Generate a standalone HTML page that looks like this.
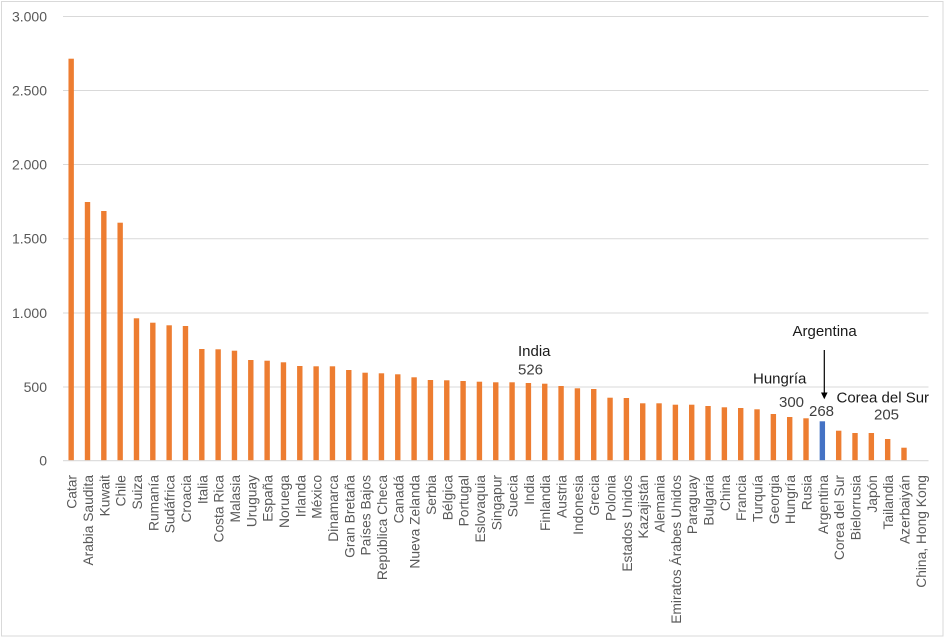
<!DOCTYPE html>
<html><head><meta charset="utf-8">
<style>
html,body{margin:0;padding:0;background:#fff;}
svg{display:block;}
text{font-family:"Liberation Sans",Arial,sans-serif;}
</style></head>
<body>
<svg width="945" height="637" viewBox="0 0 945 637" xmlns="http://www.w3.org/2000/svg">
<rect x="1.5" y="1.5" width="941.5" height="634.5" fill="#fff" stroke="#d9d9d9" stroke-width="1"/>
<g stroke="#d9d9d9" stroke-width="1">
<line x1="63" x2="928.5" y1="16.5" y2="16.5"/>
<line x1="63" x2="928.5" y1="90.5" y2="90.5"/>
<line x1="63" x2="928.5" y1="164.5" y2="164.5"/>
<line x1="63" x2="928.5" y1="238.7" y2="238.7"/>
<line x1="63" x2="928.5" y1="313" y2="313"/>
<line x1="63" x2="928.5" y1="387" y2="387"/>
</g>
<g font-size="14" fill="#595959" text-anchor="end">
<text x="47" y="21.5">3.000</text>
<text x="47" y="95.5">2.500</text>
<text x="47" y="169.5">2.000</text>
<text x="47" y="243.7">1.500</text>
<text x="47" y="318">1.000</text>
<text x="47" y="392">500</text>
<text x="47" y="465.7">0</text>
</g>
<g fill="#ED7D31">
<rect x="68.47" y="58.7" width="5.4" height="402"/>
<rect x="84.80" y="202" width="5.4" height="258.7"/>
<rect x="101.13" y="211" width="5.4" height="249.7"/>
<rect x="117.46" y="222.7" width="5.4" height="238"/>
<rect x="133.79" y="318.3" width="5.4" height="142.4"/>
<rect x="150.12" y="322.7" width="5.4" height="138"/>
<rect x="166.45" y="325.3" width="5.4" height="135.4"/>
<rect x="182.78" y="326" width="5.4" height="134.7"/>
<rect x="199.11" y="349" width="5.4" height="111.7"/>
<rect x="215.44" y="349.3" width="5.4" height="111.4"/>
<rect x="231.77" y="350.7" width="5.4" height="110"/>
<rect x="248.10" y="360" width="5.4" height="100.7"/>
<rect x="264.43" y="360.7" width="5.4" height="100"/>
<rect x="280.76" y="362.3" width="5.4" height="98.4"/>
<rect x="297.09" y="366" width="5.4" height="94.7"/>
<rect x="313.42" y="366.3" width="5.4" height="94.4"/>
<rect x="329.75" y="366.3" width="5.4" height="94.4"/>
<rect x="346.08" y="370" width="5.4" height="90.7"/>
<rect x="362.41" y="372.7" width="5.4" height="88"/>
<rect x="378.74" y="373.3" width="5.4" height="87.4"/>
<rect x="395.07" y="374.3" width="5.4" height="86.4"/>
<rect x="411.40" y="377.3" width="5.4" height="83.4"/>
<rect x="427.73" y="380" width="5.4" height="80.7"/>
<rect x="444.06" y="380.3" width="5.4" height="80.4"/>
<rect x="460.39" y="381" width="5.4" height="79.7"/>
<rect x="476.72" y="381.7" width="5.4" height="79"/>
<rect x="493.05" y="382.3" width="5.4" height="78.4"/>
<rect x="509.38" y="382.3" width="5.4" height="78.4"/>
<rect x="525.71" y="383" width="5.4" height="77.7"/>
<rect x="542.04" y="383.7" width="5.4" height="77"/>
<rect x="558.37" y="386" width="5.4" height="74.7"/>
<rect x="574.70" y="388.3" width="5.4" height="72.4"/>
<rect x="591.03" y="389" width="5.4" height="71.7"/>
<rect x="607.36" y="397.7" width="5.4" height="63"/>
<rect x="623.69" y="398" width="5.4" height="62.7"/>
<rect x="640.02" y="403.3" width="5.4" height="57.4"/>
<rect x="656.35" y="403.3" width="5.4" height="57.4"/>
<rect x="672.68" y="404.7" width="5.4" height="56"/>
<rect x="689.01" y="404.7" width="5.4" height="56"/>
<rect x="705.34" y="406" width="5.4" height="54.7"/>
<rect x="721.67" y="407.3" width="5.4" height="53.4"/>
<rect x="738.00" y="408" width="5.4" height="52.7"/>
<rect x="754.33" y="409.3" width="5.4" height="51.4"/>
<rect x="770.66" y="414" width="5.4" height="46.7"/>
<rect x="786.99" y="417" width="5.4" height="43.7"/>
<rect x="803.32" y="418.3" width="5.4" height="42.4"/>
<rect x="819.65" y="421.3" width="5.4" height="39.4" fill="#4472C4"/>
<rect x="835.98" y="430.7" width="5.4" height="30"/>
<rect x="852.31" y="433" width="5.4" height="27.7"/>
<rect x="868.64" y="433" width="5.4" height="27.7"/>
<rect x="884.97" y="439" width="5.4" height="21.7"/>
<rect x="901.30" y="447.7" width="5.4" height="13"/>
</g>
<line x1="63" x2="928.5" y1="460.7" y2="460.7" stroke="#d9d9d9" stroke-width="1.2"/>
<g font-size="13.8" fill="#595959" text-anchor="end">
<text x="76.67" y="475" transform="rotate(-90 76.67 475)">Catar</text>
<text x="93.00" y="475" transform="rotate(-90 93.00 475)">Arabia Saudita</text>
<text x="109.33" y="475" transform="rotate(-90 109.33 475)">Kuwait</text>
<text x="125.66" y="475" transform="rotate(-90 125.66 475)">Chile</text>
<text x="141.99" y="475" transform="rotate(-90 141.99 475)">Suiza</text>
<text x="158.32" y="475" transform="rotate(-90 158.32 475)">Rumanía</text>
<text x="174.65" y="475" transform="rotate(-90 174.65 475)">Sudáfrica</text>
<text x="190.98" y="475" transform="rotate(-90 190.98 475)">Croacia</text>
<text x="207.31" y="475" transform="rotate(-90 207.31 475)">Italia</text>
<text x="223.64" y="475" transform="rotate(-90 223.64 475)">Costa Rica</text>
<text x="239.97" y="475" transform="rotate(-90 239.97 475)">Malasia</text>
<text x="256.30" y="475" transform="rotate(-90 256.30 475)">Uruguay</text>
<text x="272.63" y="475" transform="rotate(-90 272.63 475)">España</text>
<text x="288.96" y="475" transform="rotate(-90 288.96 475)">Noruega</text>
<text x="305.29" y="475" transform="rotate(-90 305.29 475)">Irlanda</text>
<text x="321.62" y="475" transform="rotate(-90 321.62 475)">México</text>
<text x="337.95" y="475" transform="rotate(-90 337.95 475)">Dinamarca</text>
<text x="354.28" y="475" transform="rotate(-90 354.28 475)">Gran Bretaña</text>
<text x="370.61" y="475" transform="rotate(-90 370.61 475)">Países Bajos</text>
<text x="386.94" y="475" transform="rotate(-90 386.94 475)">República Checa</text>
<text x="403.27" y="475" transform="rotate(-90 403.27 475)">Canadá</text>
<text x="419.60" y="475" transform="rotate(-90 419.60 475)">Nueva Zelanda</text>
<text x="435.93" y="475" transform="rotate(-90 435.93 475)">Serbia</text>
<text x="452.26" y="475" transform="rotate(-90 452.26 475)">Bélgica</text>
<text x="468.59" y="475" transform="rotate(-90 468.59 475)">Portugal</text>
<text x="484.92" y="475" transform="rotate(-90 484.92 475)">Eslovaquia</text>
<text x="501.25" y="475" transform="rotate(-90 501.25 475)">Singapur</text>
<text x="517.58" y="475" transform="rotate(-90 517.58 475)">Suecia</text>
<text x="533.91" y="475" transform="rotate(-90 533.91 475)">India</text>
<text x="550.24" y="475" transform="rotate(-90 550.24 475)">Finlandia</text>
<text x="566.57" y="475" transform="rotate(-90 566.57 475)">Austria</text>
<text x="582.90" y="475" transform="rotate(-90 582.90 475)">Indonesia</text>
<text x="599.23" y="475" transform="rotate(-90 599.23 475)">Grecia</text>
<text x="615.56" y="475" transform="rotate(-90 615.56 475)">Polonia</text>
<text x="631.89" y="475" transform="rotate(-90 631.89 475)">Estados Unidos</text>
<text x="648.22" y="475" transform="rotate(-90 648.22 475)">Kazajistán</text>
<text x="664.55" y="475" transform="rotate(-90 664.55 475)">Alemania</text>
<text x="680.88" y="475" transform="rotate(-90 680.88 475)">Emiratos Árabes Unidos</text>
<text x="697.21" y="475" transform="rotate(-90 697.21 475)">Paraguay</text>
<text x="713.54" y="475" transform="rotate(-90 713.54 475)">Bulgaria</text>
<text x="729.87" y="475" transform="rotate(-90 729.87 475)">China</text>
<text x="746.20" y="475" transform="rotate(-90 746.20 475)">Francia</text>
<text x="762.53" y="475" transform="rotate(-90 762.53 475)">Turquía</text>
<text x="778.86" y="475" transform="rotate(-90 778.86 475)">Georgia</text>
<text x="795.19" y="475" transform="rotate(-90 795.19 475)">Hungría</text>
<text x="811.52" y="475" transform="rotate(-90 811.52 475)">Rusia</text>
<text x="827.85" y="475" transform="rotate(-90 827.85 475)">Argentina</text>
<text x="844.18" y="475" transform="rotate(-90 844.18 475)">Corea del Sur</text>
<text x="860.51" y="475" transform="rotate(-90 860.51 475)">Bielorrusia</text>
<text x="876.84" y="475" transform="rotate(-90 876.84 475)">Japón</text>
<text x="893.17" y="475" transform="rotate(-90 893.17 475)">Tailandia</text>
<text x="909.50" y="475" transform="rotate(-90 909.50 475)">Azerbaiyán</text>
<text x="925.83" y="475" transform="rotate(-90 925.83 475)">China, Hong Kong</text>
</g>
<g font-size="15">
<text x="518" y="356" fill="#1a1a1a">India</text>
<text x="518" y="374.5" fill="#404040">526</text>
<text x="753" y="383.3" fill="#1a1a1a">Hungría</text>
<text x="779" y="407" fill="#404040">300</text>
<text x="792.5" y="336" fill="#1a1a1a">Argentina</text>
<text x="809" y="416" fill="#404040">268</text>
<text x="836.5" y="402.5" fill="#1a1a1a">Corea del Sur</text>
<text x="874" y="419.5" fill="#404040">205</text>
</g>
<line x1="824.3" y1="350" x2="824.3" y2="393" stroke="#000" stroke-width="1.2"/>
<polygon points="821,392.5 827.6,392.5 824.3,399.3" fill="#000"/>
</svg>
</body></html>
